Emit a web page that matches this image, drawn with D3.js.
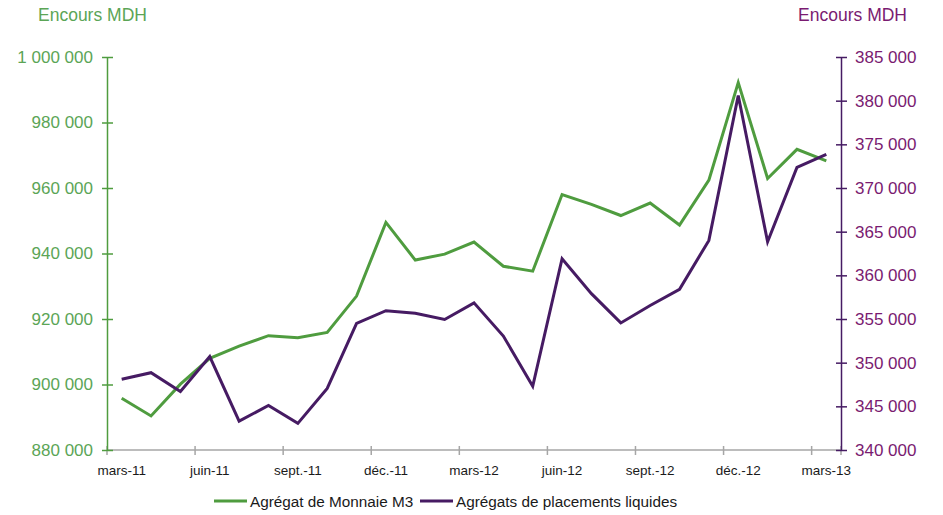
<!DOCTYPE html>
<html>
<head>
<meta charset="utf-8">
<script src="https://cdn.jsdelivr.net/npm/d3@7"></script>
<style>
  body { margin: 0; background: #fff; }
  svg { display: block; font-family: "Liberation Sans", Arial, sans-serif; }
</style>
</head>
<body>
<div id="container"></div>
<script>
// Monthly categories (mars-11 .. mars-13)
const months = [
  'mars-11', 'avr.-11', 'mai-11', 'juin-11', 'juil.-11', 'août-11', 'sept.-11', 'oct.-11', 'nov.-11',
  'déc.-11', 'janv.-12', 'févr.-12', 'mars-12', 'avr.-12', 'mai-12', 'juin-12', 'juil.-12', 'août-12',
  'sept.-12', 'oct.-12', 'nov.-12', 'déc.-12', 'janv.-13', 'févr.-13', 'mars-13'
];

// Agrégat de Monnaie M3 (left axis, MDH)
const m3Values = [
  895800, 890400, 900100, 908000, 911700, 914900, 914300, 915900, 927000,
  949500, 938000, 939800, 943500, 936100, 934600, 958000, 955000, 951600,
  955400, 948700, 962400, 992200, 962900, 971800, 968300
];

// Agrégats de placements liquides (right axis, MDH)
const plValues = [
  348100, 348850, 346700, 350700, 343300, 345100, 343050, 347050, 354500,
  355950, 355650, 354950, 356850, 353050, 347300, 361900, 357900, 354550,
  356550, 358400, 364000, 380600, 363850, 372350, 373850
];

const leftTicks = [880000, 900000, 920000, 940000, 960000, 980000, 1000000];
const rightTicks = [340000, 345000, 350000, 355000, 360000, 365000, 370000, 375000, 380000, 385000];

const seriesNames = ['Agrégat de Monnaie M3', 'Agrégats de placements liquides'];

const green = '#4f9c3f';
const greenText = '#5ba556';
const purple = '#461b63';
const purpleText = '#7a1b71';

const width = 943, height = 515;
const margin = { left: 107, right: 102, top: 57, bottom: 65 };

const svg = d3.select('#container').append('svg')
  .attr('width', width)
  .attr('height', height);

const x = d3.scaleBand()
  .domain(months)
  .range([margin.left, width - margin.right])
  .paddingInner(0)
  .paddingOuter(0);

const yLeft = d3.scaleLinear()
  .domain([880000, 1000000])
  .range([height - margin.bottom, margin.top]);

const yRight = d3.scaleLinear()
  .domain([340000, 385000])
  .range([height - margin.bottom, margin.top]);

const fmt = d3.formatLocale({ decimal: ',', thousands: '\u00a0', grouping: [3], currency: ['', ''] }).format(',');

// X axis: line, ticks between categories every 3 months, labels centered
const xBase = height - margin.bottom;
const xg = svg.append('g');
xg.append('line')
  .attr('x1', margin.left).attr('x2', width - margin.right)
  .attr('y1', xBase).attr('y2', xBase)
  .attr('stroke', '#a6a6a6').attr('stroke-width', 1.5);

const boundaries = months.map((m, i) => i).filter(i => i % 3 === 0).map(i => x(months[i]));
boundaries.push(x(months[months.length - 1]) + x.bandwidth());
xg.selectAll('line.tick')
  .data(boundaries)
  .enter().append('line')
  .attr('class', 'tick')
  .attr('x1', d => d).attr('x2', d => d)
  .attr('y1', xBase - 4).attr('y2', xBase + 5)
  .attr('stroke', '#a6a6a6').attr('stroke-width', 1.5);

xg.selectAll('text')
  .data(months.filter((m, i) => i % 3 === 0))
  .enter().append('text')
  .attr('x', d => x(d) + x.bandwidth() / 2)
  .attr('y', xBase + 25)
  .attr('text-anchor', 'middle')
  .attr('font-size', '13.5px')
  .attr('fill', '#1a1a1a')
  .text(d => d);

// Left axis
const leftAxis = svg.append('g')
  .attr('transform', `translate(${margin.left},0)`)
  .call(d3.axisLeft(yLeft).tickValues(leftTicks).tickFormat(fmt).tickSize(5).tickSizeOuter(0).tickPadding(9));
leftAxis.select('.domain').attr('stroke', green).attr('stroke-width', 1.5);
leftAxis.selectAll('.tick line').attr('stroke', green).attr('stroke-width', 1.5).attr('x2', 6).attr('x1', -5);
leftAxis.selectAll('.tick text')
  .attr('font-size', '17px')
  .attr('fill', greenText)
  .attr('font-family', '"Liberation Sans", Arial, sans-serif');

// Right axis
const rightAxis = svg.append('g')
  .attr('transform', `translate(${width - margin.right},0)`)
  .call(d3.axisRight(yRight).tickValues(rightTicks).tickFormat(fmt).tickSize(5).tickSizeOuter(0).tickPadding(9));
rightAxis.select('.domain').attr('stroke', purple).attr('stroke-width', 1.5);
rightAxis.selectAll('.tick line').attr('stroke', purple).attr('stroke-width', 1.5).attr('x1', -5).attr('x2', 6);
rightAxis.selectAll('.tick text')
  .attr('font-size', '17px')
  .attr('fill', purpleText)
  .attr('font-family', '"Liberation Sans", Arial, sans-serif');

// Axis titles
svg.append('text')
  .attr('x', 38).attr('y', 21)
  .attr('font-size', '17.5px')
  .attr('fill', greenText)
  .text('Encours MDH');
svg.append('text')
  .attr('x', 907).attr('y', 21)
  .attr('text-anchor', 'end')
  .attr('font-size', '17.5px')
  .attr('fill', purpleText)
  .text('Encours MDH');

// Lines
const cx = d => x(d) + x.bandwidth() / 2;

const lineLeft = d3.line()
  .x((d, i) => cx(months[i]))
  .y(d => yLeft(d));
const lineRight = d3.line()
  .x((d, i) => cx(months[i]))
  .y(d => yRight(d));

svg.append('path')
  .datum(m3Values)
  .attr('d', lineLeft)
  .attr('fill', 'none')
  .attr('stroke', green)
  .attr('stroke-width', 3)
  .attr('stroke-linejoin', 'miter');

svg.append('path')
  .datum(plValues)
  .attr('d', lineRight)
  .attr('fill', 'none')
  .attr('stroke', purple)
  .attr('stroke-width', 3)
  .attr('stroke-linejoin', 'miter');

// Legend
const legend = svg.append('g').attr('transform', 'translate(0,501)');
const legendItems = [
  { name: seriesNames[0], color: green, x: 214 },
  { name: seriesNames[1], color: purple, x: 420 }
];
legendItems.forEach(item => {
  legend.append('line')
    .attr('x1', item.x).attr('x2', item.x + 33)
    .attr('y1', 0).attr('y2', 0)
    .attr('stroke', item.color).attr('stroke-width', 3);
  legend.append('text')
    .attr('x', item.x + 36).attr('y', 5.5)
    .attr('font-size', '15.3px')
    .attr('fill', '#1a1a1a')
    .text(item.name);
});
</script>
</body>
</html>
